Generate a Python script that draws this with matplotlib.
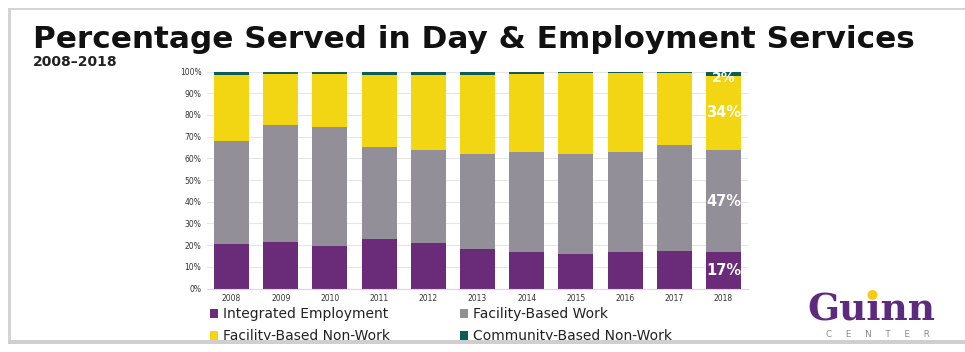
import numpy as np
import matplotlib.pyplot as plt
from matplotlib.patches import Rectangle, Ellipse

plt.rcParams['font.family'] = ['DejaVu Sans']

# --- Data (% of people served) ---
years = ['2008', '2009', '2010', '2011', '2012', '2013', '2014', '2015', '2016', '2017', '2018']
integrated = [20.4, 21.4, 19.4, 22.7, 21.0, 18.1, 16.7, 15.7, 16.7, 17.1, 16.7]
facility_work = [47.5, 53.9, 55.1, 42.6, 42.6, 44.1, 46.1, 46.5, 46.1, 49.1, 47.2]
facility_nonwork = [30.6, 23.6, 24.4, 33.2, 34.9, 36.3, 36.1, 37.0, 36.4, 33.0, 34.1]
community_nonwork = [1.5, 1.1, 1.1, 1.5, 1.5, 1.5, 1.1, 0.8, 0.8, 0.8, 2.0]
series_names = ['Integrated Employment', 'Facility-Based Work',
                'Facility-Based Non-Work', 'Community-Based Non-Work']
last_labels = ['17%', '47%', '34%', '2%']

colors = ['#6a2c79', '#938f98', '#f2d513', '#0c5d58']

W, H = 965, 352
fig = plt.figure(figsize=(W / 100, H / 100), dpi=100)

# card with a soft shadow
fig.patches.append(Rectangle((8 / W, 1 - 343 / H), 1, 335 / H, transform=fig.transFigure,
                             facecolor='#d4d4d4', edgecolor='none', zorder=-2))
fig.patches.append(Rectangle((11 / W, 1 - 340 / H), 1, 330 / H, transform=fig.transFigure,
                             facecolor='white', edgecolor='none', zorder=-1))

fig.text(33 / W, 1 - 39 / H, 'Percentage Served in Day & Employment Services',
         fontsize=22.4, fontweight='bold', va='center', ha='left', color='#111111')
fig.text(33 / W, 1 - 62 / H, '2008\u20132018', fontsize=10, fontweight='bold',
         va='center', ha='left', color='#222222')

ax = fig.add_axes([207 / W, 1 - 288.5 / H, (748 - 207) / W, (288.5 - 71.5) / H])
x = np.arange(len(years))
data = [integrated, facility_work, facility_nonwork, community_nonwork]
bottom = np.zeros(len(years))
handles = []
for vals, c, name in zip(data, colors, series_names):
    v = np.array(vals) / 100
    b = ax.bar(x, v, 0.71, bottom=bottom, color=c, label=name, zorder=2)
    handles.append(b)
    bottom += v

# labels on the 2018 bar
bottom = 0
for vals, lab in zip(data, last_labels):
    v = vals[-1] / 100
    yc = bottom + v / 2 if lab != '2%' else bottom - 0.01
    ax.text(x[-1], yc, lab, color='white', fontsize=10.5 if lab != '2%' else 10,
            fontweight='bold', ha='center', va='center', zorder=3)
    bottom += v

ax.set_xlim(-0.5, 10.5)
ax.set_ylim(0, 1)
ticks = np.arange(0, 1.01, 0.1)
ax.set_yticks(ticks)
ax.set_yticklabels([f'{int(round(t * 100))}%' for t in ticks])
ax.set_xticks(x)
ax.set_xticklabels(years)
ax.tick_params(length=0, labelsize=5.5, colors='#333333', pad=4)
ax.grid(axis='y', color='#e6e6e6', linewidth=0.8, zorder=0)
for s in ['top', 'right', 'left']:
    ax.spines[s].set_visible(False)
ax.spines['bottom'].set_color('#d9d9d9')

# legend filled row by row: reorder for matplotlib's column-wise fill
order = [0, 2, 1, 3]
fig.legend(handles=[handles[i] for i in order], labels=[series_names[i] for i in order],
           ncol=2, loc='upper left', bbox_to_anchor=(210 / W, 1 - 307 / H),
           frameon=False, fontsize=10.0, labelcolor='#222222',
           handlelength=0.6, handleheight=0.6, handletextpad=0.35,
           columnspacing=5.0, labelspacing=0.6, borderaxespad=0, borderpad=0)

# bottom strip of the card covers the second legend row partly
fig.patches.append(Rectangle((0, 0), 1, 11 / H, transform=fig.transFigure,
                             facecolor='white', edgecolor='none', zorder=10))
fig.patches.append(Rectangle((8 / W, 8 / H), 1, 4 / H, transform=fig.transFigure,
                             facecolor='#cfcfcf', edgecolor='none', zorder=10))

# Guinn Center logo
fig.text(871 / W, 1 - 320 / H, 'Guinn', fontsize=27, fontweight='bold',
         family='DejaVu Serif', color='#5e2a7e', ha='center', va='baseline')
fig.text(878 / W, 1 - 334.5 / H, 'C     E     N     T     E     R', fontsize=6.3,
         color='#8a8a8a', ha='center', va='center')
fig.patches.append(Ellipse((872.5 / W, 1 - 295 / H), 10 / W, 10 / H,
                           transform=fig.transFigure, facecolor='#f7cb14',
                           edgecolor='none', zorder=5))

fig.savefig('out.png', dpi=100, facecolor='white')
